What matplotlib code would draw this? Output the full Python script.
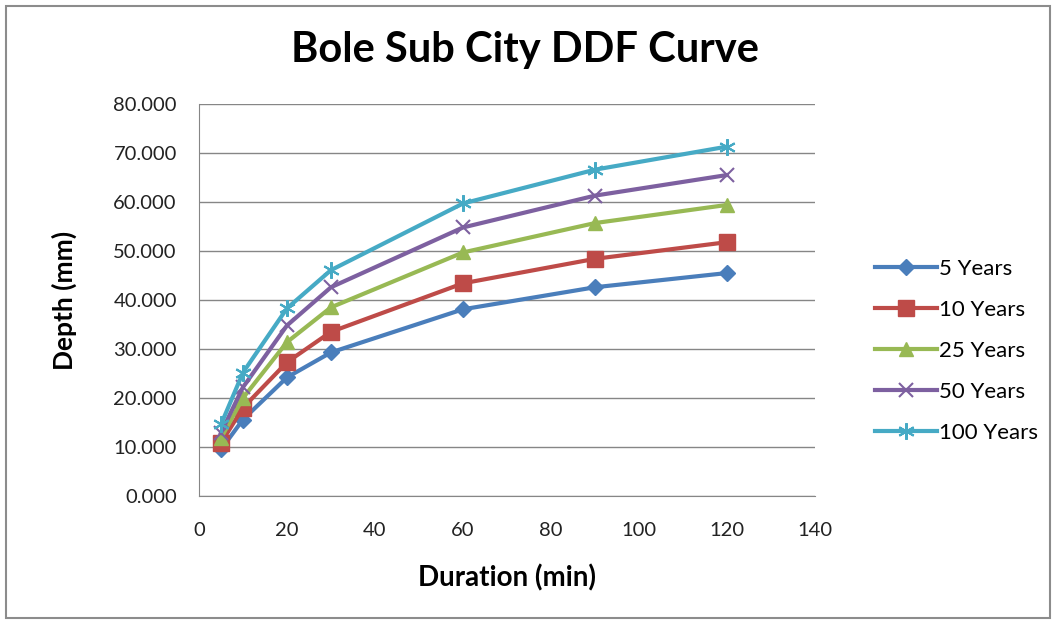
import matplotlib.pyplot as plt
from matplotlib.patches import Rectangle
from matplotlib.ticker import FormatStrFormatter

plt.rcParams['font.family'] = ['Lato', 'DejaVu Sans']

duration = [5, 10, 20, 30, 60, 90, 120]
depth_5 = [9.5, 15.6, 24.2, 29.3, 38.1, 42.6, 45.5]
depth_10 = [10.8, 18.0, 27.3, 33.5, 43.4, 48.4, 51.8]
depth_25 = [11.8, 20.0, 31.4, 38.5, 49.7, 55.7, 59.4]
depth_50 = [12.9, 22.2, 34.8, 42.6, 54.8, 61.3, 65.5]
depth_100 = [14.6, 25.2, 38.3, 46.1, 59.7, 66.6, 71.3]

series = [
    ("5 Years", depth_5, "#4A7EBB", "D", 8),
    ("10 Years", depth_10, "#BE4B48", "s", 11),
    ("25 Years", depth_25, "#98B954", "^", 10),
    ("50 Years", depth_50, "#7D60A0", "x", 10),
    ("100 Years", depth_100, "#46AAC5", (6, 2, 0), 12),
]

fig = plt.figure(figsize=(10.54, 6.22), dpi=100)
fig.patches.append(Rectangle((0.006, 0.006), 0.99, 0.985, transform=fig.transFigure,
                             fill=False, edgecolor="#8c8c8c", linewidth=1.5))

ax = fig.add_axes([0.1888, 0.2026, 0.5844, 0.6302])
for name, vals, col, mk, ms in series:
    thin = mk == "x" or isinstance(mk, tuple)
    ax.plot(duration, vals, color=col, linewidth=3, marker=mk, markersize=ms,
            markeredgecolor=col, markeredgewidth=1.5 if thin else 1, label=name)

ax.set_xlim(0, 140)
ax.set_ylim(0, 80)
ax.set_xticks(range(0, 141, 20))
ax.set_yticks(range(0, 81, 10))
ax.yaxis.set_major_formatter(FormatStrFormatter("%.3f"))
ax.grid(axis="y", color="#868686", linewidth=1)
ax.set_axisbelow(True)
for s in ("top", "right"):
    ax.spines[s].set_visible(False)
for s in ("left", "bottom"):
    ax.spines[s].set_color("#868686")
ax.tick_params(length=0, labelsize=14.5, colors="#222222")
ax.tick_params(axis="x", pad=19)
ax.tick_params(axis="y", pad=16)

ax.set_title("Bole Sub City DDF Curve", fontsize=30, fontweight="bold", pad=30, x=0.53)
ax.set_xlabel("Duration (min)", fontsize=20, fontweight="bold", labelpad=18)
ax.set_ylabel("Depth (mm)", fontsize=19, fontweight="bold", labelpad=26)

ax.legend(loc="center left", bbox_to_anchor=(1.097, 0.37), frameon=False, fontsize=16,
          handlelength=2.8, labelspacing=0.95, handletextpad=0.1,
          borderpad=0, borderaxespad=0)

fig.savefig("out.png", dpi=100)
